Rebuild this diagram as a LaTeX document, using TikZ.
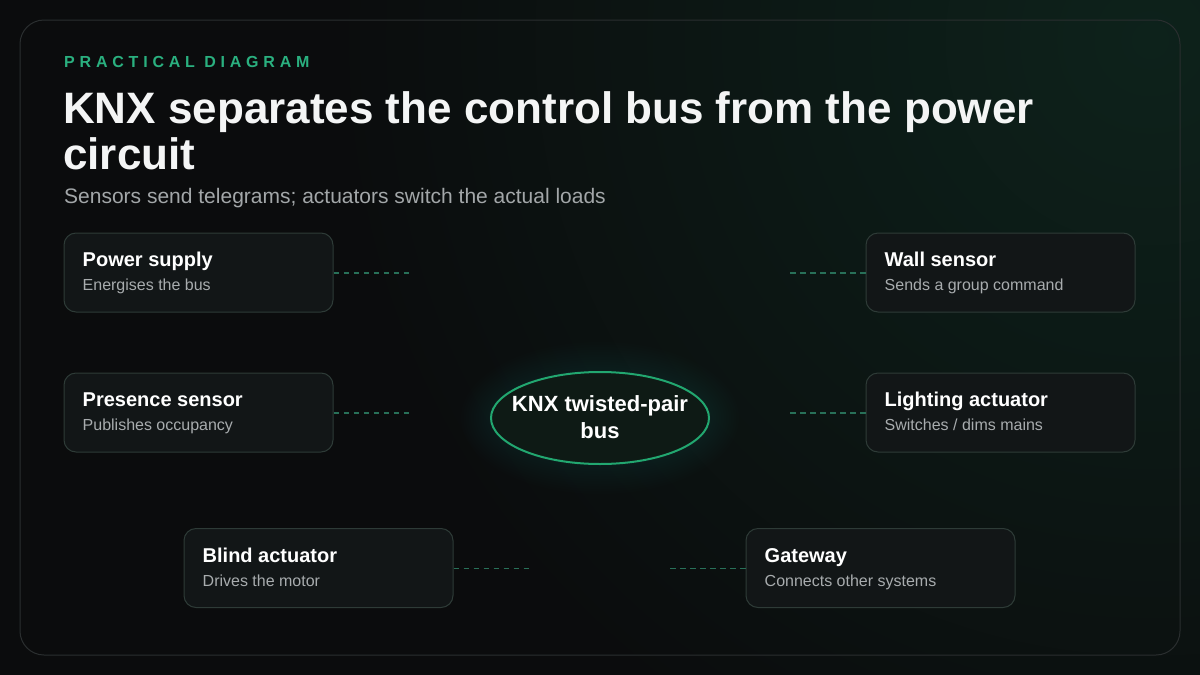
\documentclass[tikz,border=0pt]{standalone}
\usepackage{fontspec}
\setmainfont{Liberation Sans}
\usetikzlibrary{shapes.geometric}
\definecolor{bg}{HTML}{0B0C0D}
\definecolor{glow}{HTML}{0D221B}
\definecolor{cardline}{HTML}{2A2E2F}
\definecolor{accent}{HTML}{2AB07F}
\definecolor{busline}{HTML}{22A770}
\definecolor{busfill}{HTML}{0E1A15}
\definecolor{boxfill}{HTML}{121617}
\definecolor{boxline}{HTML}{2E3B37}
\definecolor{dashcol}{HTML}{287058}
\definecolor{titlecol}{HTML}{F4F5F5}
\definecolor{subcol}{HTML}{A3A7A9}
\definecolor{boxsub}{HTML}{A8ACAE}
\tikzset{
  cardbox/.style={rectangle, rounded corners=12pt, draw=boxline, fill=boxfill, line width=1pt,
    minimum width=269pt, minimum height=79pt, inner sep=0pt},
  cardtitle/.style={anchor=base west, inner sep=0pt, text=white, font=\bfseries\fontsize{20}{23}\selectfont},
  cardsub/.style={anchor=base west, inner sep=0pt, text=boxsub, font=\fontsize{16}{19}\selectfont},
  conn/.style={draw=dashcol, line width=1.5pt, dash pattern=on 5.5pt off 4.5pt},
  busnode/.style={ellipse, draw=busline, line width=2pt, fill=busfill, minimum width=218pt,
    minimum height=92pt, inner sep=0pt},
  bustext/.style={align=center, text=white, inner sep=0pt,
    font=\bfseries\fontsize{22}{26.5}\selectfont}
}
\newcommand\knxcard[5]{%
  \node[cardbox] (#1) at (#2,#3) {};
  \path (#1.north west) ++(19,34) node[cardtitle] {#4} ++(0,24) node[cardsub] {#5};
}
\begin{document}
\begin{tikzpicture}[x=1pt,y=-1pt]
\useasboundingbox (0,0) rectangle (1200,675);
\fill[bg] (0,0) rectangle (1200,675);
\begin{scope}
  \clip (0,0) rectangle (1200,675);
  \shade[inner color=glow, outer color=bg] (1150,40) circle (820pt);
  \foreach \i in {1,...,12} {
    \fill[busline, opacity=0.012] (600,418) ellipse ({109pt+2.5pt*\i} and {46pt+2.5pt*\i});
  }
\end{scope}
\draw[cardline, line width=1pt, rounded corners=24pt] (20,20) rectangle (1180,655);

\node[anchor=base west, inner sep=0pt, text=accent, font=\bfseries\fontsize{16}{19}\selectfont\addfontfeature{LetterSpace=30}] (kicker) at (64,67) {PRACTICAL DIAGRAM};
\node[anchor=base west, inner sep=0pt, text=titlecol, font=\bfseries\fontsize{44}{47}\selectfont] (title1) at (63,123) {KNX separates the control bus from the power};
\node[anchor=base west, inner sep=0pt, text=titlecol, font=\bfseries\fontsize{44}{47}\selectfont] (title2) at (63,169) {circuit};
\node[anchor=base west, inner sep=0pt, text=subcol, font=\fontsize{21}{24}\selectfont] (subtitle) at (64,203) {Sensors send telegrams; actuators switch the actual loads};

\knxcard{ps}{198.5}{272.5}{Power supply}{Energises the bus}
\knxcard{ws}{1000.5}{272.5}{Wall sensor}{Sends a group command}
\knxcard{pr}{198.5}{412.5}{Presence sensor}{Publishes occupancy}
\knxcard{la}{1000.5}{412.5}{Lighting actuator}{Switches / dims mains}
\knxcard{ba}{318.5}{568}{Blind actuator}{Drives the motor}
\knxcard{gw}{880.5}{568}{Gateway}{Connects other systems}

\node[busnode] (bus) at (600,418) {};
\node[bustext] (bustxt) at (600,417) {KNX twisted-pair\\bus};

\coordinate (psend) at (413,273);
\coordinate (wsend) at (787,273);
\coordinate (prend) at (413,413);
\coordinate (laend) at (787,413);
\coordinate (baend) at (533,568.5);
\coordinate (gwend) at (667,568.5);
\draw[conn] (ps.east |- psend) -- (psend);
\draw[conn] (ws.west |- wsend) -- (wsend);
\draw[conn] (pr.east |- prend) -- (prend);
\draw[conn] (la.west |- laend) -- (laend);
\draw[conn] (ba.east |- baend) -- (baend);
\draw[conn] (gw.west |- gwend) -- (gwend);
\end{tikzpicture}
\end{document}
